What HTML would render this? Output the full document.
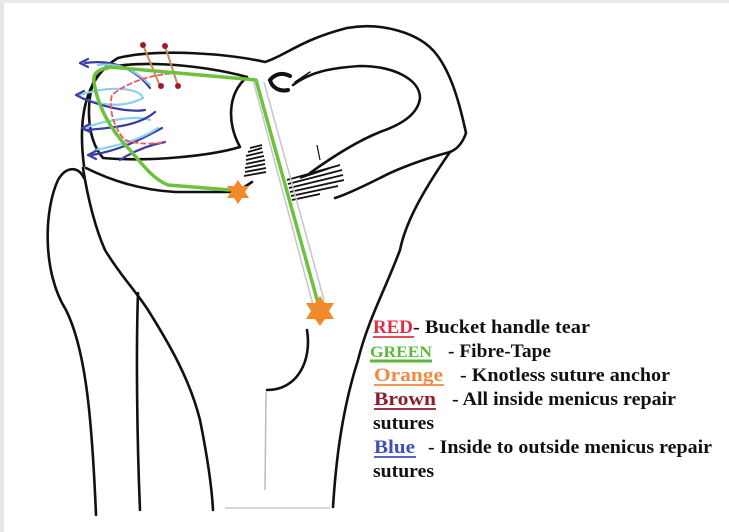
<!DOCTYPE html>
<html><head><meta charset="utf-8"><style>
html,body{margin:0;padding:0;background:#fff;}
svg{display:block}
text{font-family:"Liberation Serif",serif;font-weight:bold;font-size:19px;fill:#111}
</style></head><body>
<svg width="729" height="532" viewBox="0 0 729 532" xmlns="http://www.w3.org/2000/svg">
<rect x="0" y="0" width="4" height="532" fill="#e4e6ea"/>
<rect x="0" y="0" width="729" height="3" fill="#e8e9ec"/>
<g fill="none" stroke="#111" stroke-width="2.6" stroke-linecap="round" stroke-linejoin="round">
<path d="M84,166 C78,120 84,78 118,58 C160,48 230,54 265,62 C285,56 300,40 347,28 C380,22 420,32 437,55 C452,75 460,105 466,133 C462,145 455,150 450,152"/>
<path d="M450,152 C420,195 405,225 400,250 C385,290 368,320 358,360 C342,410 336,460 333,507"/>
<path d="M450,152 C420,160 395,170 380,178 C360,188 345,195 335,198"/>
<path d="M293,85 C310,72 330,68 360,66 C395,66 420,80 420,98 C418,115 400,125 380,132 C360,140 335,155 310,173"/>
<path d="M270,80 C275,74 282,72 290,76 M270,80 C272,88 280,92 288,90" stroke-width="4"/>
<path d="M295,82 L310,72" stroke-width="1.5"/>
<path d="M247,77 C200,64 125,58 97,72 C85,100 86,138 103,158 C150,162 210,156 240,147 C228,125 226,95 247,77"/>
<path d="M86,168 C110,180 140,190 175,192 L230,192 M243,188 L252,182"/>
<path d="M96,515 C92,420 86,350 66,310 C42,272 44,210 58,180 C66,166 78,166 84,178"/>
<path d="M83,168 C88,200 96,230 105,250 C120,275 135,290 148,310 C170,345 190,380 200,420 C208,460 212,490 213,510"/>
<path d="M138,293 C136,350 137,440 140,510"/>
<path d="M307,330 C312,360 298,390 267,390"/>
</g>
<line x1="266" y1="392" x2="265" y2="490" stroke="#bbb" stroke-width="1.5"/>
<line x1="225" y1="508" x2="330" y2="508" stroke="#ccc" stroke-width="1.5"/>
<g stroke="#111" stroke-width="1.8">
<path d="M248,152 L262,148 M246,156 L263,152 M246,160 L264,156 M246,164 L265,160 M245,168 L265,164 M245,172 L266,168 M244,176 L266,172 M250,148 L262,145"/>
<path d="M287,180 L340,165 M288,184 L342,170 M289,188 L343,175 M290,192 L344,180 M291,196 L338,186 M292,200 L320,194 M300,178 L330,168"/>
<path d="M317,145 L320,160" stroke-width="1.2"/>
</g>
<g stroke="#c8c8cc" stroke-width="1.6">
<line x1="253" y1="80" x2="313" y2="305"/>
<line x1="264" y1="82" x2="324" y2="300"/>
</g>
<g fill="none" stroke-width="2.2" stroke-linecap="round">
<path d="M85,63 C120,58 140,75 150,88" stroke="#3b3ca8"/>
<path d="M98,65 C130,62 145,80 150,85" stroke="#8ccfe8"/>
<path d="M80,95 C110,85 140,88 143,98 C130,105 110,108 88,100" stroke="#8ccfe8"/>
<path d="M82,98 C110,110 135,112 145,110" stroke="#3b3ca8"/>
<path d="M85,128 C110,118 140,116 150,120" stroke="#8ccfe8"/>
<path d="M85,130 C115,128 140,125 155,112" stroke="#3b3ca8"/>
<path d="M92,155 C120,150 140,140 162,128" stroke="#3b3ca8"/>
<path d="M95,150 C120,145 140,140 158,128" stroke="#8ccfe8"/>
<path d="M120,160 C135,150 150,145 165,142" stroke="#3b3ca8"/>
<path d="M80,63 l8,-4 M80,63 l8,4 M76,95 l8,-4 M76,95 l8,4 M82,128 l8,-4 M82,128 l8,4 M88,155 l8,-4 M88,155 l8,4" stroke="#3b3ca8"/>
</g>
<path d="M187,73 C160,72 130,80 112,95 C108,110 115,130 125,140 C140,145 155,144 165,142" fill="none" stroke="#ec5864" stroke-width="1.8" stroke-dasharray="6,2"/>
<g stroke="#c98b5a" stroke-width="2">
<line x1="143" y1="45" x2="160" y2="86"/>
<line x1="165" y1="46" x2="178" y2="86"/>
</g>
<g fill="#a01a2a"><circle cx="143" cy="45" r="3"/><circle cx="165" cy="46" r="3"/><circle cx="161" cy="86" r="3"/><circle cx="178" cy="86" r="3"/></g>
<path d="M318,303 L256,80 L110,67 C95,70 93,75 94,82 C98,110 115,135 130,150 C145,168 155,180 168,185 L230,190" fill="none" stroke="#6cc23e" stroke-width="3.5" stroke-linejoin="round"/>
<g fill="#f08a2a">
<polygon points="238,180 242,186 249,186 245,192 249,198 242,198 238,204 234,198 227,198 231,192 227,186 234,186"/>
<polygon points="320,296 325,303 334,303 329,311 334,319 325,319 320,326 315,319 306,319 311,311 306,303 315,303"/>
</g>
<g>
<text x="373" y="333" fill="#e0303f" style="fill:#e0303f" textLength="40" lengthAdjust="spacingAndGlyphs">RED</text>
<text x="413" y="333" textLength="177" lengthAdjust="spacingAndGlyphs">- Bucket handle tear</text>
<line x1="373" y1="337" x2="414" y2="337" stroke="#e0303f" stroke-width="1.8"/>
<text x="370" y="357" style="fill:#5cb83a;font-size:16px" textLength="62" lengthAdjust="spacingAndGlyphs">GREEN</text>
<text x="448" y="357" textLength="103" lengthAdjust="spacingAndGlyphs">- Fibre-Tape</text>
<line x1="370" y1="361" x2="432" y2="361" stroke="#5cb83a" stroke-width="3"/>
<text x="374" y="381" style="fill:#f08a40" textLength="69" lengthAdjust="spacingAndGlyphs">Orange</text>
<text x="460" y="381" textLength="210" lengthAdjust="spacingAndGlyphs">- Knotless suture anchor</text>
<line x1="374" y1="385" x2="444" y2="385" stroke="#f08a40" stroke-width="1.8"/>
<text x="374" y="405" style="fill:#8e1c2a" textLength="62" lengthAdjust="spacingAndGlyphs">Brown</text>
<text x="452" y="405" textLength="224" lengthAdjust="spacingAndGlyphs">- All inside menicus repair</text>
<line x1="374" y1="409" x2="436" y2="409" stroke="#8e1c2a" stroke-width="1.8"/>
<text x="373" y="429" textLength="61" lengthAdjust="spacingAndGlyphs">sutures</text>
<text x="374" y="453" style="fill:#4050b8" textLength="41" lengthAdjust="spacingAndGlyphs">Blue</text>
<text x="428" y="453" textLength="284" lengthAdjust="spacingAndGlyphs">- Inside to outside menicus repair</text>
<line x1="374" y1="457" x2="416" y2="457" stroke="#4050b8" stroke-width="1.8"/>
<text x="373" y="477" textLength="61" lengthAdjust="spacingAndGlyphs">sutures</text>
</g>
</svg>
</body></html>
